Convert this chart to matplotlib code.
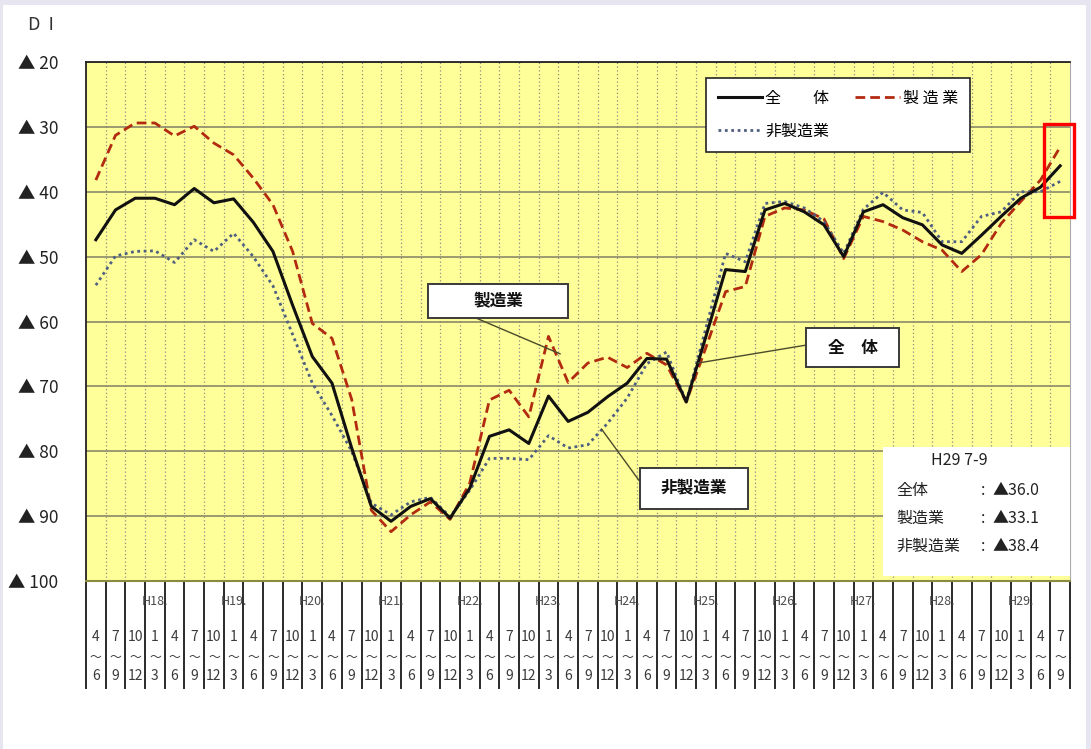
import matplotlib
matplotlib.use("Agg")
import matplotlib.pyplot as plt
import matplotlib.patches as patches
import numpy as np

plt.rcParams['font.family'] = ['Noto Sans CJK JP', 'DejaVu Sans']

# Data (DI, shown as negative "▲" values; stored as magnitudes)
start_months = ["4", "7", "10"] + ["1", "4", "7", "10"] * 11 + ["1", "4", "7"]
end_months = ["6", "9", "12"] + ["3", "6", "9", "12"] * 11 + ["3", "6", "9"]
years = ["H%d." % y for y in range(18, 30)]

zentai = [47.4, 42.8, 41.0, 41.0, 42.0, 39.5, 41.7, 41.1, 44.7, 49.2,
          57.5, 65.4, 69.5, 79.5, 88.5, 90.8, 88.5, 87.3, 90.3, 85.7,
          77.7, 76.7, 78.8, 71.5, 75.4, 74.0, 71.6, 69.5, 65.7, 65.8,
          72.4, 62.3, 52.0, 52.3, 42.8, 41.8, 43.1, 45.1, 50.0, 43.1,
          42.0, 44.0, 45.1, 48.2, 49.5, 46.7, 43.8, 41.0, 39.3, 36.0]
seizo = [38.2, 31.3, 29.4, 29.4, 31.4, 29.9, 32.5, 34.3, 37.9, 42.0,
         49.2, 60.3, 62.6, 72.0, 89.1, 92.4, 89.8, 87.8, 90.5, 84.9,
         72.1, 70.6, 74.7, 62.3, 69.4, 66.4, 65.5, 67.1, 64.9, 66.7,
         72.4, 64.0, 55.4, 54.6, 43.8, 42.5, 42.8, 44.2, 50.3, 43.8,
         44.6, 45.9, 47.7, 49.0, 52.3, 49.7, 44.9, 41.5, 38.2, 33.1]
hiseizo = [54.4, 49.9, 49.2, 49.1, 50.9, 47.4, 49.2, 46.4, 50.0, 54.5,
           62.0, 69.5, 74.5, 80.0, 88.0, 89.8, 87.8, 87.1, 90.1, 86.0,
           81.1, 81.1, 81.3, 77.6, 79.5, 79.0, 75.7, 71.8, 66.5, 64.7,
           72.4, 61.0, 49.5, 50.8, 41.8, 41.5, 42.5, 44.6, 49.5, 42.7,
           40.1, 42.8, 43.2, 47.7, 47.7, 43.8, 43.1, 40.0, 40.0, 38.4]

x = np.arange(len(zentai))

fig = plt.figure(figsize=(10.91, 7.49), dpi=100, facecolor='#e7e5ef')
# white page inside lavender frame
fig.patches.append(patches.Rectangle((3 / 1091, 0), 1083 / 1091, 744 / 749,
                                     transform=fig.transFigure, facecolor='white',
                                     edgecolor='none', zorder=-10))

ax = fig.add_axes([86 / 1091, 1 - 581 / 749, 984 / 1091, 519 / 749])
ax.set_facecolor('#ffff99')

# grid
ax.set_ylim(100, 20)
ax.set_xlim(-0.5, len(x) - 0.5)
ax.set_yticks(np.arange(20, 101, 10))
ax.set_yticklabels(["▲ %d" % v for v in range(20, 101, 10)], fontsize=12.5, color='#222222')
ax.set_xticks([])
ax.set_xticks(np.arange(0.5, len(x) - 1, 1), minor=True)
ax.tick_params(axis='y', length=0, pad=20)
ax.tick_params(axis='x', which='both', length=0, labelbottom=False)
ax.yaxis.grid(True, color='#8a8a6a', linewidth=1.2)
ax.xaxis.grid(True, which='minor', color='#8c8c8c', linestyle=(0, (1, 2)), linewidth=0.9)
ax.set_axisbelow(True)
for side in ['top', 'left']:
    ax.spines[side].set_color('#222222')
    ax.spines[side].set_linewidth(1.3)
ax.spines['bottom'].set_color('#8a8a40')
ax.spines['bottom'].set_linewidth(1.5)
ax.spines['right'].set_color('#aaaaaa')

# series
l1, = ax.plot(x, zentai, color='#111111', linewidth=2.2, label="全　　体", zorder=4)
l2, = ax.plot(x, seizo, color='#b22a10', linewidth=2.0, linestyle=(0, (3.5, 1.8)),
              label="製 造 業", zorder=3)
l3, = ax.plot(x, hiseizo, color='#4f5f80', linewidth=2.0, linestyle=(0, (1, 1.3)),
              label="非製造業", zorder=3)

leg = ax.legend(handles=[l1, l3, l2], ncol=2, loc='upper left',
                bbox_to_anchor=(0.6296, 0.969), borderaxespad=0, fontsize=11.5,
                frameon=True, fancybox=False, edgecolor='#222222', framealpha=1,
                handlelength=2.8, handletextpad=0.2, columnspacing=1.6,
                labelspacing=1.0, borderpad=0.75)
leg.get_frame().set_linewidth(1.2)

# x "table" below the axes
tr = ax.get_xaxis_transform()
for b in np.arange(-0.5, len(x), 1):
    ax.plot([b, b], [0, -0.207], transform=tr, color='#2a2a2a', linewidth=1.4,
            clip_on=False)
for i in range(len(x)):
    ax.text(i, -0.107, start_months[i], transform=tr, ha='center', va='center',
            fontsize=10, color='#3a3a3a')
    ax.text(i, -0.148, "～", transform=tr, ha='center', va='center',
            fontsize=8.5, color='#3a3a3a')
    ax.text(i, -0.184, end_months[i], transform=tr, ha='center', va='center',
            fontsize=10, color='#3a3a3a')
for k, y in enumerate(years):
    ax.text(3 + 4 * k, -0.040, y, transform=tr, ha='center', va='center',
            fontsize=9, color='#4a4a4a')

fig.text(28 / 1091, 1 - 25 / 749, "D  I", fontsize=13, color='#333333', va='center')


# callout boxes
def callout(text, x0, y0, w, h, start, end):
    ax.add_patch(patches.Rectangle((x0, y0), w, h, transform=ax.transAxes,
                                   facecolor='white', edgecolor='#3a3a3a',
                                   linewidth=1.4, zorder=6))
    ax.text(x0 + w / 2, y0 + h / 2, text, transform=ax.transAxes, ha='center',
            va='center', fontsize=12, fontweight='bold', color='#111111', zorder=7)
    ax.annotate("", xy=end, xycoords='data', xytext=start, textcoords='axes fraction',
                arrowprops=dict(arrowstyle='-', color='#4a4a2a', linewidth=1.0,
                                shrinkA=0, shrinkB=0), zorder=5)


callout("製造業", 0.3476, 0.5067, 0.1423, 0.0655, (0.397, 0.5062), (23.6, 65.0))
callout("全　体", 0.7317, 0.4123, 0.0945, 0.0751, (0.7324, 0.4547), (30.6, 66.4))
callout("非製造業", 0.563, 0.1387, 0.1098, 0.079, (0.563, 0.1913), (25.7, 76.6))

# latest value box
ax.add_patch(patches.Rectangle((0.81, 0.0096), 0.19, 0.2486, transform=ax.transAxes,
                               facecolor='white', edgecolor='none', zorder=6))
ax.text(0.888, 0.233, "H29 7-9", transform=ax.transAxes, ha='center', va='center',
        fontsize=11.5, color='#222222', zorder=7)
rows = [("全体", zentai[-1]), ("製造業", seizo[-1]), ("非製造業", hiseizo[-1])]
for j, (name, val) in enumerate(rows):
    yy = 0.175 - j * 0.054
    ax.text(0.824, yy, name, transform=ax.transAxes, ha='left', va='center',
            fontsize=11.5, color='#222222', zorder=7)
    ax.text(0.9095, yy, ":", transform=ax.transAxes, ha='left', va='center',
            fontsize=11.5, color='#222222', zorder=7)
    ax.text(0.921, yy, "▲%.1f" % val, transform=ax.transAxes, ha='left', va='center',
            fontsize=11.5, color='#222222', zorder=7)

# red highlight on the latest quarter
fig.patches.append(patches.Rectangle((1044 / 1091, 1 - 217 / 749), 30 / 1091, 93 / 749,
                                     transform=fig.transFigure, facecolor='none',
                                     edgecolor='#ff0000', linewidth=2.4, zorder=10))

fig.savefig("out.png", dpi=100, facecolor=fig.get_facecolor())
